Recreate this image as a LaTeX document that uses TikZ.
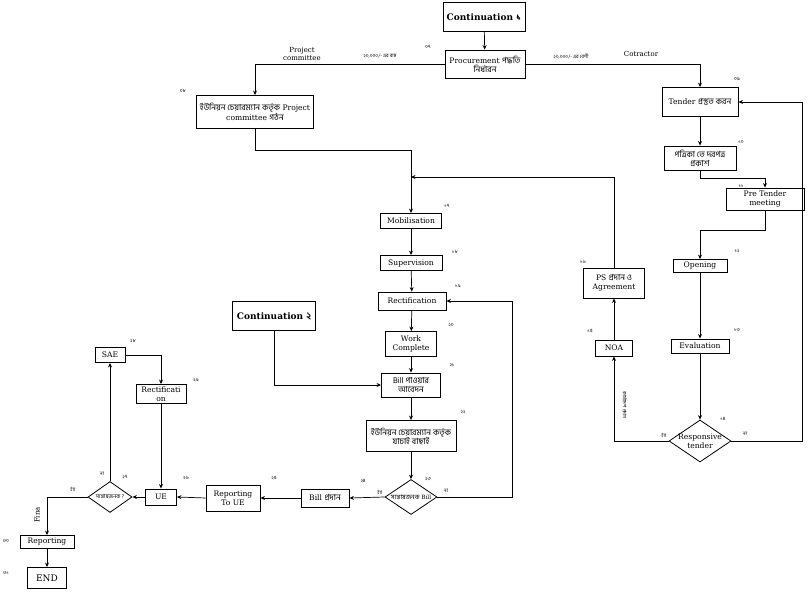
\documentclass[tikz,border=0pt]{standalone}
\usepackage{fontspec}
\setmainfont{DejaVu Serif}
\newfontfamily\bn[Script=Bengali,Scale=1.1]{Hind Siliguri}
\usetikzlibrary{shapes.geometric,arrows.meta}
\begin{document}
\begin{tikzpicture}[x=1pt,y=-1pt,
  box/.style={draw,line width=0.9pt,align=center,inner sep=1pt,font=\fontsize{7.6}{9}\selectfont},
  bigbox/.style={draw,line width=1pt,align=center,font=\fontsize{9}{10}\selectfont\bfseries},
  dia/.style={draw,diamond,line width=0.8pt,inner sep=0pt},
  arr/.style={line width=0.7pt,-{Stealth[length=4.5pt,width=4pt]}},
  num/.style={font=\bn\fontsize{4.5}{5}\selectfont,inner sep=0pt},
  lab/.style={font=\fontsize{7}{8}\selectfont,align=center,inner sep=0pt},
  blab/.style={font=\bn\fontsize{4.5}{5}\selectfont,inner sep=0pt}]
\useasboundingbox (0,0) rectangle (808,593);
% nodes
\node[bigbox,minimum width=82pt,minimum height=29pt] (c1) at (484,17) {Continuation {\bn ১}};
\node[box,minimum width=80pt,minimum height=28pt] (proc) at (485,64) {Procurement {\bn পদ্ধতি}\\{\bn নির্ধারন}};
\node[box,minimum width=117pt,minimum height=33pt] (pcb) at (255,112) {{\bn ইউনিয়ন চেয়ারম্যান কর্তৃক} Project\\committee {\bn গঠন}};
\node[box,minimum width=76pt,minimum height=29pt] (tender) at (700,102) {Tender {\bn প্রস্তুত করন}};
\node[box,minimum width=72pt,minimum height=24pt] (pat) at (700,158) {{\bn পত্রিকা তে দরপত্র}\\{\bn প্রকাশ}};
\node[box,minimum width=78pt,minimum height=22pt] (pre) at (765,199) {Pre Tender\\meeting};
\node[box,minimum width=54pt,minimum height=13pt] (open) at (700,266) {Opening};
\node[box,minimum width=58pt,minimum height=14pt] (eval) at (700,346) {Evaluation};
\node[dia,minimum width=62pt,minimum height=42pt] (rt) at (700,441) {};
\node[lab,font=\fontsize{7.6}{9}\selectfont] at (rt) {Responsive\\tender};
\node[box,minimum width=37pt,minimum height=16pt] (noa) at (614,348) {NOA};
\node[box,minimum width=61pt,minimum height=30pt] (ps) at (614,283) {PS {\bn প্রদান ও}\\Agreement};
\node[box,minimum width=61pt,minimum height=15pt] (mob) at (411,221) {Mobilisation};
\node[box,minimum width=62pt,minimum height=15pt] (sup) at (411,263) {Supervision};
\node[box,minimum width=68pt,minimum height=18pt] (rect) at (412,301) {Rectification};
\node[box,minimum width=51pt,minimum height=25pt] (wc) at (411,344) {Work\\Complete};
\node[box,minimum width=59pt,minimum height=24pt] (bill) at (411,385) {{\bn Bill পাওয়ার}\\{\bn আবেদন}};
\node[box,minimum width=90pt,minimum height=31pt] (yb) at (411,436) {{\bn ইউনিয়ন চেয়ারম্যান কর্তৃক}\\{\bn যাচাই বাছাই}};
\node[dia,minimum width=52pt,minimum height=35pt] (d1) at (411,497) {};
\node[lab,font=\fontsize{5.8}{7}\selectfont] at (d1) {{\bn সন্তোষজনক} Bill};
\node[box,minimum width=48pt,minimum height=18pt] (bp) at (325,498) {Bill {\bn প্রদান}};
\node[box,minimum width=54pt,minimum height=26pt] (rue) at (233,498) {Reporting\\To UE};
\node[box,minimum width=31pt,minimum height=16pt] (ue) at (161,497) {UE};
\node[dia,minimum width=44pt,minimum height=31pt] (d2) at (110,497) {};
\node[lab,font=\bn\fontsize{5}{6}\selectfont] at (d2) {সন্তোষজনক ?};
\node[box,minimum width=30pt,minimum height=15pt] (sae) at (110,355) {SAE};
\node[box,minimum width=50pt,minimum height=19pt] (rect2) at (161,394) {Rectificati\\on};
\node[bigbox,minimum width=83pt,minimum height=29pt] (c2) at (274,316) {Continuation {\bn ২}};
\node[box,minimum width=54pt,minimum height=13pt] (rep) at (47,542) {Reporting};
\node[box,minimum width=39pt,minimum height=21pt,font=\fontsize{9}{10}\selectfont] (end) at (47,578) {END};
% coordinates
\coordinate (j1) at (411,177);
\coordinate (k1) at (802,441);
\coordinate (k2) at (512,497);
% connectors
\draw[arr] (c1) -- (proc);
\draw[arr] (proc.west) -| (pcb.north);
\draw[arr] (proc.east) -| (tender.north);
\draw[arr] (pcb.south) -- ++(0,21) -| (mob.north);
\draw[arr] (ps.north) |- (j1);
\draw[arr] (tender) -- (pat);
\draw[arr] (pat.south) -- ++(0,8) -| (pre.north);
\draw[arr] (pre.south) -- ++(0,20) -| (open.north);
\draw[arr] (open) -- (eval);
\draw[arr] (eval) -- (rt);
\draw[arr] (rt.west) -| (noa.south);
\draw[arr] (rt.east) -- (k1) |- (tender.east);
\draw[arr] (noa) -- (ps);
\draw[arr] (mob) -- (sup);
\draw[arr] (sup) -- (rect);
\draw[arr] (rect) -- (wc);
\draw[arr] (wc) -- (bill);
\draw[arr] (bill) -- (yb);
\draw[arr] (yb) -- (d1);
\draw[arr] (d1.east) -- (k2) |- (rect.east);
\draw[arr] (d1.west) -- (bp.east);
\draw[arr] (c2.south) |- (bill.west);
\draw[arr] (bp.west) -- (rue.east);
\draw[arr] (rue.west) -- (ue.east);
\draw[arr] (ue.west) -- (d2.east);
\draw[arr] (d2.north) -- (sae.south);
\draw[arr] (sae.east) -| (rect2.north);
\draw[arr] (rect2.south) -- (ue.north);
\draw[arr] (d2.west) -| (rep.north);
\draw[arr] (rep) -- (end);
% edge labels
\node[lab] (l1) at (302,54) {Project\\committee};
\node[blab] (l2) at (380,56) {২০,০০০/- এর কম};
\node[blab] (l3) at (571,56) {২০,০০০/- এর বেশী};
\node[lab] (l4) at (641,54) {Cotractor};
\node[blab] (l5) at (664,435) {হ্যাঁ};
\node[blab] (l6) at (745,434) {না};
\node[blab,rotate=-90] (l7) at (625,405) {কার্যাদেশ প্রদান};
\node[blab] (l8) at (380,492) {হ্যাঁ};
\node[blab] (l9) at (446,491) {না};
\node[blab] (l10) at (73,489) {হ্যাঁ};
\node[blab] (l11) at (102,474) {না};
\node[lab,rotate=90] (l12) at (37,515) {Fina};
% step numbers
\node[num] at (428,47) {০৭};
\node[num] at (183,91) {০৮};
\node[num] at (737,79) {০৯};
\node[num] at (741,142) {১০};
\node[num] at (741,186) {১১};
\node[num] at (737,251) {১২};
\node[num] at (737,330) {১৩};
\node[num] at (723,419) {১৪};
\node[num] at (590,331) {১৫};
\node[num] at (583,262) {১৬};
\node[num] at (447,206) {১৭};
\node[num] at (455,252) {১৮};
\node[num] at (458,286) {১৯};
\node[num] at (451,325) {২০};
\node[num] at (452,365) {২১};
\node[num] at (463,412) {২২};
\node[num] at (428,479) {২৩};
\node[num] at (363,481) {২৪};
\node[num] at (274,478) {২৫};
\node[num] at (186,478) {২৬};
\node[num] at (125,477) {২৭};
\node[num] at (133,341) {২৮};
\node[num] at (196,380) {২৯};
\node[num] at (6,541) {৩০};
\node[num] at (6,573) {৩১};
\end{tikzpicture}
\end{document}
